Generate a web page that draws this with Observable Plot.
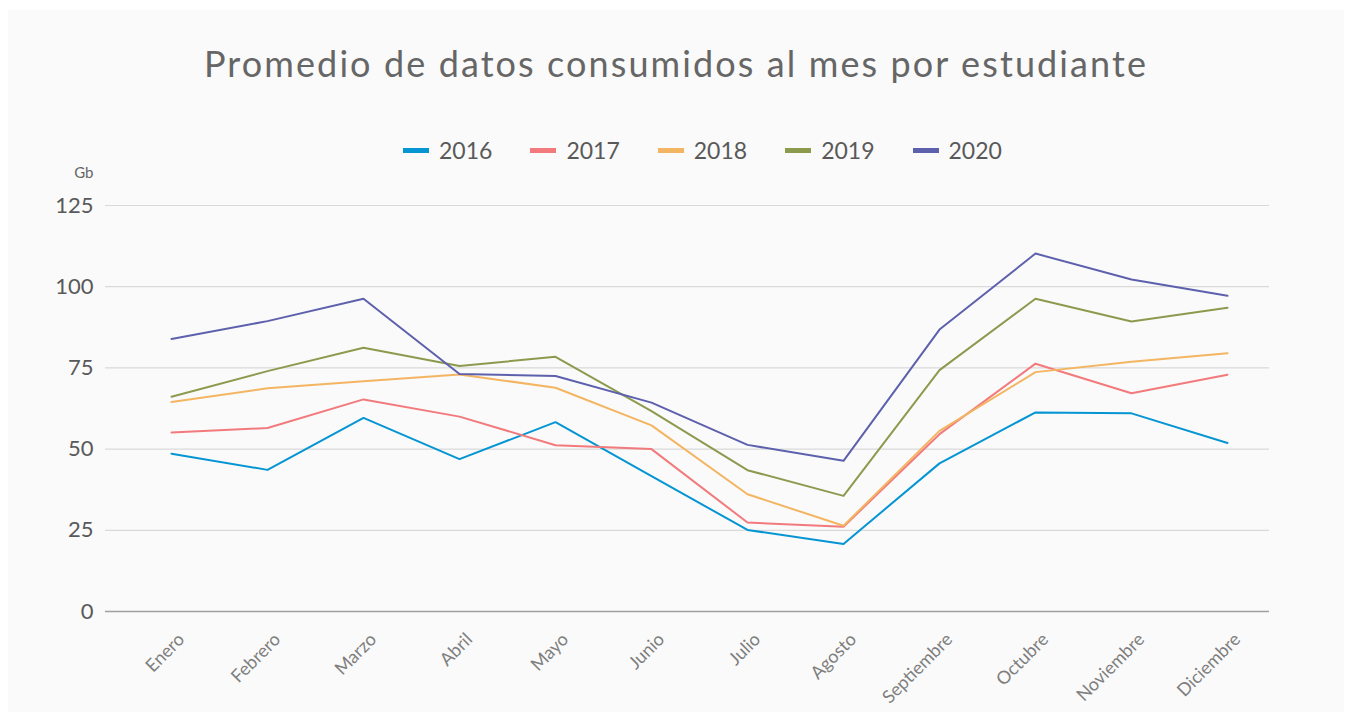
<!DOCTYPE html>
<html>
<head>
<meta charset="utf-8">
<script src="https://cdn.jsdelivr.net/npm/d3@7"></script>
<script src="https://cdn.jsdelivr.net/npm/@observablehq/plot@0.6"></script>
<style>
  html, body { margin: 0; padding: 0; background: #ffffff; }
  body { width: 1352px; height: 722px; position: relative; overflow: hidden; font-family: Lato, "Open Sans", sans-serif; }
  #card { position: absolute; left: 8px; top: 10px; width: 1336px; height: 702px; background: #fafafa; }
  #title { position: absolute; left: 0; top: 40px; width: 1352px; text-align: center; font-size: 36px; letter-spacing: 2.1px; color: #666666; line-height: 46px; }
  #legend { position: absolute; left: 403px; top: 136px; display: flex; gap: 38px; align-items: center; font-size: 23px; color: #595959; line-height: 28px; }
  .item { display: flex; align-items: center; gap: 10px; }
  .sw { width: 26px; height: 5px; }
  #chart { position: absolute; left: 0; top: 160px; }
</style>
</head>
<body>
<div id="card"></div>
<div id="title">Promedio de datos consumidos al mes por estudiante</div>
<div id="legend"></div>
<div id="chart"></div>
<script>
const months = ["Enero","Febrero","Marzo","Abril","Mayo","Junio","Julio","Agosto","Septiembre","Octubre","Noviembre","Diciembre"];
const years = ["2016","2017","2018","2019","2020"];
const colors = ["#0595d3","#f27a7c","#f3b562","#8c9a4e","#5d60ad"];
const yTicks = [0, 25, 50, 75, 100, 125];
const v2016 = [48.6, 43.6, 59.6, 46.9, 58.3, 41.7, 25.1, 20.8, 45.6, 61.3, 61.0, 51.9];
const v2017 = [55.1, 56.5, 65.3, 60.0, 51.2, 50.0, 27.4, 26.1, 54.6, 76.3, 67.2, 72.9];
const v2018 = [64.5, 68.7, 70.9, 73.0, 68.9, 57.3, 36.1, 26.4, 55.6, 73.7, 76.9, 79.5];
const v2019 = [66.1, 74.0, 81.2, 75.6, 78.4, 61.7, 43.5, 35.6, 74.3, 96.3, 89.3, 93.5];
const v2020 = [83.9, 89.4, 96.3, 73.1, 72.5, 64.3, 51.3, 46.4, 86.8, 110.2, 102.2, 97.2];
const series = [v2016, v2017, v2018, v2019, v2020];

const data = [];
years.forEach((yr, i) => months.forEach((m, j) => data.push({year: yr, month: m, value: series[i][j]})));

// legend
const legend = document.getElementById("legend");
years.forEach((yr, i) => {
  const it = document.createElement("div");
  it.className = "item";
  const sw = document.createElement("div");
  sw.className = "sw";
  sw.style.background = colors[i];
  const t = document.createElement("span");
  t.textContent = yr;
  it.appendChild(sw); it.appendChild(t);
  legend.appendChild(it);
});

const chart = Plot.plot({
  width: 1352,
  height: 562,
  marginLeft: 105,
  marginRight: 83,
  marginTop: 45,
  marginBottom: 111,
  style: { background: "transparent", fontFamily: "Lato, 'Open Sans', sans-serif", overflow: "visible" },
  x: { type: "point", domain: months, padding: 0.53, align: 0.61, label: null },
  y: { domain: [0, 125], label: null },
  color: { domain: years, range: colors },
  marks: [
    Plot.gridY(yTicks.filter(d => d > 0), { stroke: "#d9d9d9", strokeOpacity: 1, strokeWidth: 1.2 }),
    Plot.ruleY([0], { stroke: "#a0a0a0", strokeWidth: 1.3 }),
    Plot.axisY({ ticks: yTicks, tickSize: 0, tickPadding: 12, fontSize: 22, color: "#595959", label: null }),
    Plot.axisX({ tickSize: 0, tickRotate: -45, tickPadding: 25, fontSize: 18, color: "#7f7f7f", label: null, dx: 10 }),
    Plot.line(data, { x: "month", y: "value", z: "year", stroke: "year", strokeWidth: 2 }),
    Plot.text(["Gb"], { text: d => d, frameAnchor: "top-left", dx: -12, dy: -38, textAnchor: "end", fontSize: 15, fill: "#666666" })
  ]
});
document.getElementById("chart").appendChild(chart);
</script>
</body>
</html>
